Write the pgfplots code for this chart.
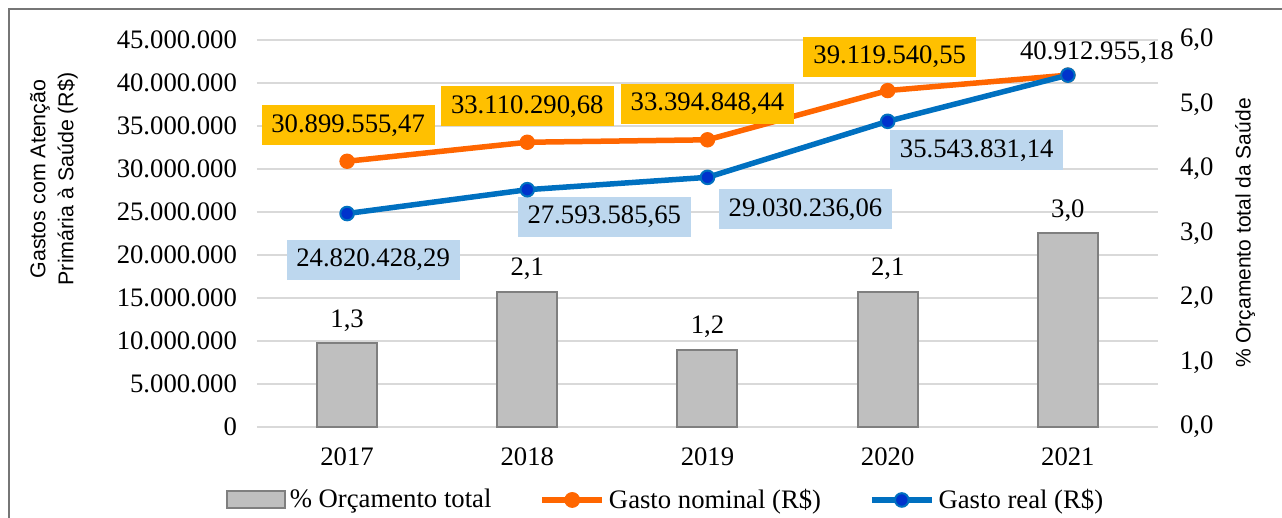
\documentclass[border=0pt]{standalone}
\usepackage{pgfplots}
\pgfplotsset{compat=1.18}
\usepackage{fontspec}
\setmainfont{Liberation Serif}
\newfontfamily\arial{Liberation Sans}
\definecolor{gridc}{HTML}{D9D9D9}
\definecolor{barf}{HTML}{BFBFBF}
\definecolor{bard}{HTML}{7F7F7F}
\definecolor{orl}{HTML}{FF6600}
\definecolor{orbox}{HTML}{FFC000}
\definecolor{bll}{HTML}{0070C0}
\definecolor{blm}{HTML}{0033CC}
\definecolor{blbox}{HTML}{BDD7EE}
\definecolor{framec}{HTML}{767676}
\newcommand\tf{\rmfamily\fontsize{13.35}{16}\selectfont}
\newcommand\af{\arial\fontsize{10.7}{14}\selectfont}
\pgfplotsset{base/.style={scale only axis, width=450.5pt, height=193.5pt, xmin=-0.5, xmax=4.5, clip=false, /pgf/number format/assume math mode=true}}
\tikzset{
  lblo/.style={fill=orbox, minimum width=86.5pt, minimum height=20pt, inner sep=0pt, font=\tf},
  lblb/.style={fill=blbox, minimum width=86.5pt, minimum height=20pt, inner sep=0pt, font=\tf},
}
\begin{document}
\begin{tikzpicture}
% grid + left axis
\begin{axis}[base, name=main, ymin=0, ymax=45000000, scaled y ticks=false,
  axis line style={draw=none}, major tick length=0pt,
  ytick={0,5000000,10000000,15000000,20000000,25000000,30000000,35000000,40000000,45000000},
  yticklabels={0,5.000.000,10.000.000,15.000.000,20.000.000,25.000.000,30.000.000,35.000.000,40.000.000,45.000.000},
  ymajorgrids, grid style={draw=gridc, line width=1.2pt},
  xtick={0,1,2,3,4}, xticklabels={2017,2018,2019,2020,2021},
  ticklabel style={font=\tf},
  yticklabel style={xshift=-6.5pt},
  xticklabel style={yshift=-7pt},
]
\addplot[draw=none] coordinates {(0,0)};
\node[rotate=90, anchor=center, align=center, font=\af, inner sep=0pt] at (axis description cs:-0.2253,0.641)
  {Gastos com Atenção\\Primária à Saúde (R\$)};
\end{axis}
% bars + right axis
\begin{axis}[base, ymin=0, ymax=6, axis y line*=right, axis x line=none,
  axis line style={draw=none}, major tick length=0pt,
  ytick={0,1,2,3,4,5,6}, yticklabels={{0,0},{1,0},{2,0},{3,0},{4,0},{5,0},{6,0}},
  yticklabel style={font=\tf, xshift=7.5pt},
  ylabel={\% Orçamento total da Saúde},
  ylabel style={font=\arial\fontsize{10.5}{13}\selectfont, at={(axis description cs:1.0966,0.501)}, anchor=center, inner sep=0pt},
  ybar, bar width=30pt,
]
\addplot[fill=barf, draw=bard, line width=1pt,
  nodes near coords={\pgfmathprintnumber[fixed,fixed zerofill,precision=1,use comma]{\pgfplotspointmeta}},
  nodes near coords style={font=\tf, anchor=base, yshift=8pt, text=black}]
  coordinates {(0,1.3) (1,2.1) (2,1.2) (3,2.1) (4,3.0)};
\end{axis}
% lines
\begin{axis}[base, ymin=0, ymax=45000000, hide axis,
  legend style={draw=none, fill=none, at={(0.4545,-0.1886)}, anchor=center, legend columns=3, font=\tf,
    /tikz/every even column/.append style={column sep=22pt}, cells={anchor=west, font=\tf}},
]
\addlegendimage{legend image code/.code={\draw[fill=barf,draw=bard,line width=1pt] (0pt,-4.25pt) rectangle (29pt,4.25pt);}}
\addlegendentry{\% Orçamento total}
\addlegendimage{legend image code/.code={\draw[orl,line width=2.75pt] (0pt,0pt) -- (30pt,0pt); \fill[orl] (15pt,0pt) circle (3.75pt);}}
\addlegendentry{Gasto nominal (R\$)}
\addlegendimage{legend image code/.code={\draw[bll,line width=2.75pt] (0pt,0pt) -- (30pt,0pt); \filldraw[fill=blm,draw=bll,line width=1pt] (15pt,0pt) circle (3.4pt);}}
\addlegendentry{Gasto real (R\$)}
\addplot[forget plot, orl, line width=2.75pt, mark=*, mark size=3.6pt, mark options={fill=orl, draw=orl, line width=0.5pt}]
  coordinates {(0,30899555.47) (1,33110290.68) (2,33394848.44) (3,39119540.55) (4,40912955.18)};
\addplot[forget plot, bll, line width=2.75pt, mark=*, mark size=3.4pt, mark options={fill=blm, draw=bll, line width=1pt}]
  coordinates {(0,24820428.29) (1,27593585.65) (2,29030236.06) (3,35543831.14) (4,40912955.18)};
\node[lblo, xshift=0.5pt, yshift=18pt] at (axis cs:0,30899555.47) {30.899.555,47};
\node[lblo, yshift=18pt] at (axis cs:1,33110290.68) {33.110.290,68};
\node[lblo, yshift=18pt] at (axis cs:2,33394848.44) {33.394.848,44};
\node[lblo, xshift=1pt, yshift=17pt] at (axis cs:3,39119540.55) {39.119.540,55};
\node[font=\tf, inner sep=0pt, xshift=14.5pt, yshift=11pt] at (axis cs:4,40912955.18) {40.912.955,18};
\node[lblb, xshift=13pt, yshift=-23pt] at (axis cs:0,24820428.29) {24.820.428,29};
\node[lblb, xshift=38.5pt, yshift=-13.5pt] at (axis cs:1,27593585.65) {27.593.585,65};
\node[lblb, xshift=49pt, yshift=-16pt] at (axis cs:2,29030236.06) {29.030.236,06};
\node[lblb, xshift=44.5pt, yshift=-14.5pt] at (axis cs:3,35543831.14) {35.543.831,14};
\end{axis}
\draw[framec, line width=1pt] (-124pt,-60pt) -- (-124pt,209pt) -- (530pt,209pt);
\pgfresetboundingbox
\useasboundingbox (-128.5pt,-45.5pt) rectangle (512.5pt,213.5pt);
\end{tikzpicture}
\end{document}
